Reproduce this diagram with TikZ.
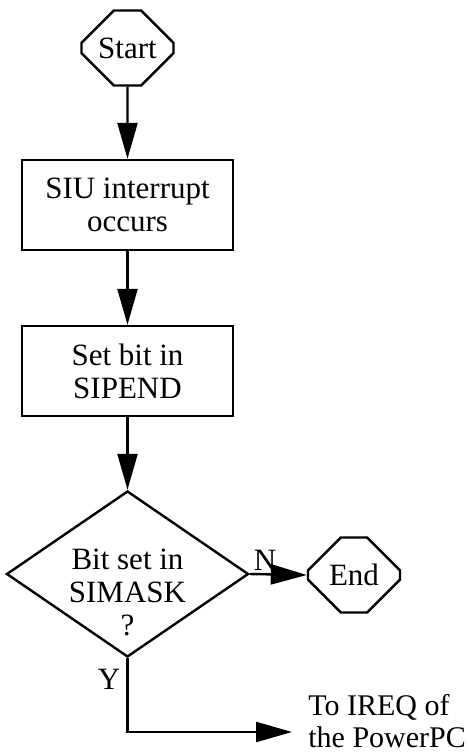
\documentclass[tikz,border=0pt]{standalone}
\usepackage{fontspec}
\setmainfont{Liberation Serif}
\usetikzlibrary{shapes.misc, shapes.geometric, arrows.meta}

\begin{document}
\begin{tikzpicture}[x=0.5pt, y=-0.5pt,
    every node/.style={font=\fontsize{15.5}{16.5}\selectfont},
    terminal/.style={chamfered rectangle, chamfered rectangle xsep=10.5pt,
      chamfered rectangle ysep=11pt, draw, line width=1.2pt,
      minimum width=46pt, minimum height=37.5pt, inner sep=0pt},
    process/.style={rectangle, draw, line width=1.2pt, align=center,
      minimum width=105.5pt, minimum height=45pt},
    decision/.style={diamond, draw, line width=1.2pt, inner sep=0pt,
      minimum width=121pt, minimum height=83pt},
    flow/.style={line width=1.2pt, -{Triangle[length=18pt, width=10pt]}}]
    \useasboundingbox (0,0) rectangle (468,753);

    \node[terminal] (start) at (127.5,48) {Start};
    \node[process] (siu) at (127.5,205) {SIU interrupt\\occurs};
    \node[process] (sipend) at (127.5,371) {Set bit in\\SIPEND};
    \node[decision] (test) at (127.5,574) {};
    \node[align=center, inner sep=0pt] (testtext) at (127.5,592) {Bit set in\\SIMASK\\?};
    \node[terminal] (end) at (354,575) {End};
    \node[anchor=west, align=left, inner sep=0pt, font=\fontsize{15}{16}\selectfont]
      (ireq) at (308,721) {To IREQ of\\the PowerPC};
    \coordinate (ireqin) at (292,732);

    \draw[flow] (start) -- (siu);
    \draw[flow] (siu) -- (sipend);
    \draw[flow] (sipend) -- (test);
    \draw[flow] (test.east) -- (end.west) node[pos=0.27, anchor=south, inner sep=1.5pt] {N};
    \draw[flow] (test.south) |- (ireqin) node[pos=0.14, left, inner sep=3pt] {Y};
  \end{tikzpicture}
\end{document}
